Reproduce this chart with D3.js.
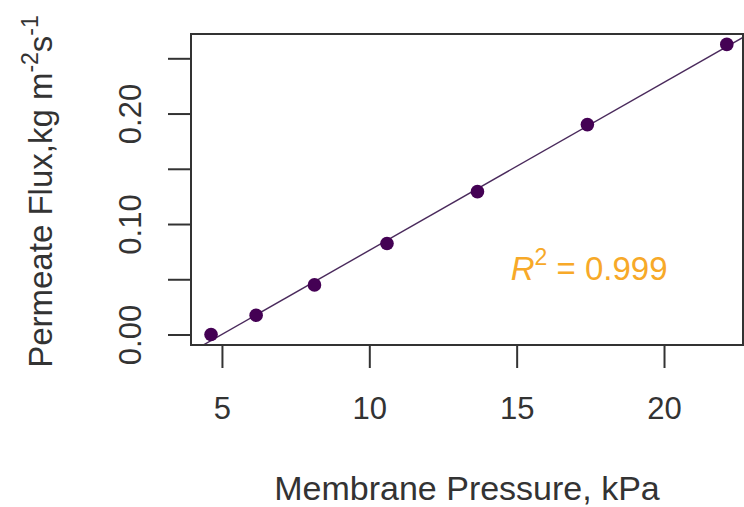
<!DOCTYPE html>
<html>
<head>
<meta charset="utf-8">
<script src="https://cdn.jsdelivr.net/npm/d3@7"></script>
<style>
  body { margin: 0; background: #fff; }
  svg text { font-family: "Liberation Sans", Arial, sans-serif; }
</style>
</head>
<body>
<div id="chart"></div>
<script>
// data
const pressure = [4.63, 6.16, 8.14, 10.6, 13.67, 17.4, 22.13]
const flux = [0.000, 0.0174, 0.0449, 0.0824, 0.1293, 0.190, 0.2626]
const xTicks = [5, 10, 15, 20]
const yTicks = [0, 0.05, 0.10, 0.15, 0.20, 0.25]
const yTickLabels = ["0.00", "", "0.10", "", "0.20", ""]
const r2Label = "0.999"

const W = 744, H = 507
const box = {left: 191, right: 743, top: 34, bottom: 345}

const svg = d3.select("#chart")
  .append("svg")
  .attr("width", W)
  .attr("height", H)

const x = d3.scaleLinear().domain([3.95, 22.68]).range([box.left, box.right])
const y = d3.scaleLinear().domain([-0.0095, 0.272]).range([box.bottom, box.top])

// least squares fit (abline of lm)
const mx = d3.mean(pressure), my = d3.mean(flux)
let sxy = 0, sxx = 0
pressure.forEach((p, i) => { sxy += (p - mx) * (flux[i] - my); sxx += (p - mx) ** 2 })
const slope = sxy / sxx
const intercept = my - slope * mx

svg.append("clipPath").attr("id", "plotclip")
  .append("rect")
  .attr("x", box.left).attr("y", box.top)
  .attr("width", box.right - box.left).attr("height", box.bottom - box.top)

// fitted line
const xd = x.domain()
svg.append("line")
  .attr("clip-path", "url(#plotclip)")
  .attr("x1", x(xd[0])).attr("y1", y(intercept + slope * xd[0]))
  .attr("x2", x(xd[1])).attr("y2", y(intercept + slope * xd[1]))
  .style("stroke", "#4a2a5c")
  .style("stroke-width", 1.4)

// points
svg.selectAll("circle.pt")
  .data(pressure)
  .enter()
  .append("circle")
  .attr("class", "pt")
  .attr("cx", d => x(d))
  .attr("cy", (d, i) => y(flux[i]))
  .attr("r", 6.8)
  .style("fill", "#440154")

// x axis
const xAxis = svg.append("g")
  .attr("transform", `translate(0,${box.bottom})`)
  .call(d3.axisBottom(x).tickValues(xTicks).tickSize(23).tickPadding(29).tickFormat(d3.format("d")))
xAxis.select(".domain").remove()
xAxis.selectAll("line").style("stroke", "#333").style("stroke-width", 2)
xAxis.selectAll("text").style("font-size", "31px").style("fill", "#333")

// y axis
const yAxis = svg.append("g")
  .attr("transform", `translate(${box.left},0)`)
  .call(d3.axisLeft(y).tickValues(yTicks).tickSize(23).tickFormat((d, i) => yTickLabels[i]))
yAxis.select(".domain").remove()
yAxis.selectAll("line").style("stroke", "#333").style("stroke-width", 2)
yAxis.selectAll(".tick text")
  .attr("x", 0).attr("y", 0).attr("dy", null)
  .attr("transform", "translate(-61,0) rotate(-90)")
  .attr("text-anchor", "middle")
  .attr("dominant-baseline", "central")
  .style("font-size", "31px").style("fill", "#333")

// box
svg.append("rect")
  .attr("x", box.left).attr("y", box.top)
  .attr("width", box.right - box.left).attr("height", box.bottom - box.top)
  .style("fill", "none")
  .style("stroke", "#333")
  .style("stroke-width", 2)

// axis titles
svg.append("text")
  .attr("x", (box.left + box.right) / 2)
  .attr("y", 500)
  .attr("text-anchor", "middle")
  .style("font-size", "34px")
  .style("fill", "#333")
  .text("Membrane Pressure, kPa")

const yt = svg.append("text")
  .attr("transform", `translate(52,${(box.top + box.bottom) / 2 + 2}) rotate(-90)`)
  .attr("text-anchor", "middle")
  .style("font-size", "33px")
  .style("fill", "#333")
yt.append("tspan").text("Permeate Flux,kg m")
yt.append("tspan").attr("dy", -14).style("font-size", "23px").text("-2")
yt.append("tspan").attr("dy", 14).text("s")
yt.append("tspan").attr("dy", -14).style("font-size", "23px").text("-1")

// R squared annotation
const r2 = svg.append("text")
  .attr("x", x(14.8))
  .attr("y", 280)
  .style("font-size", "33px")
  .style("fill", "#F7A928")
r2.append("tspan").style("font-style", "italic").text("R")
r2.append("tspan").attr("dy", -15).style("font-size", "23px").text("2")
r2.append("tspan").attr("dy", 15).text(" = " + r2Label)
</script>
</body>
</html>
